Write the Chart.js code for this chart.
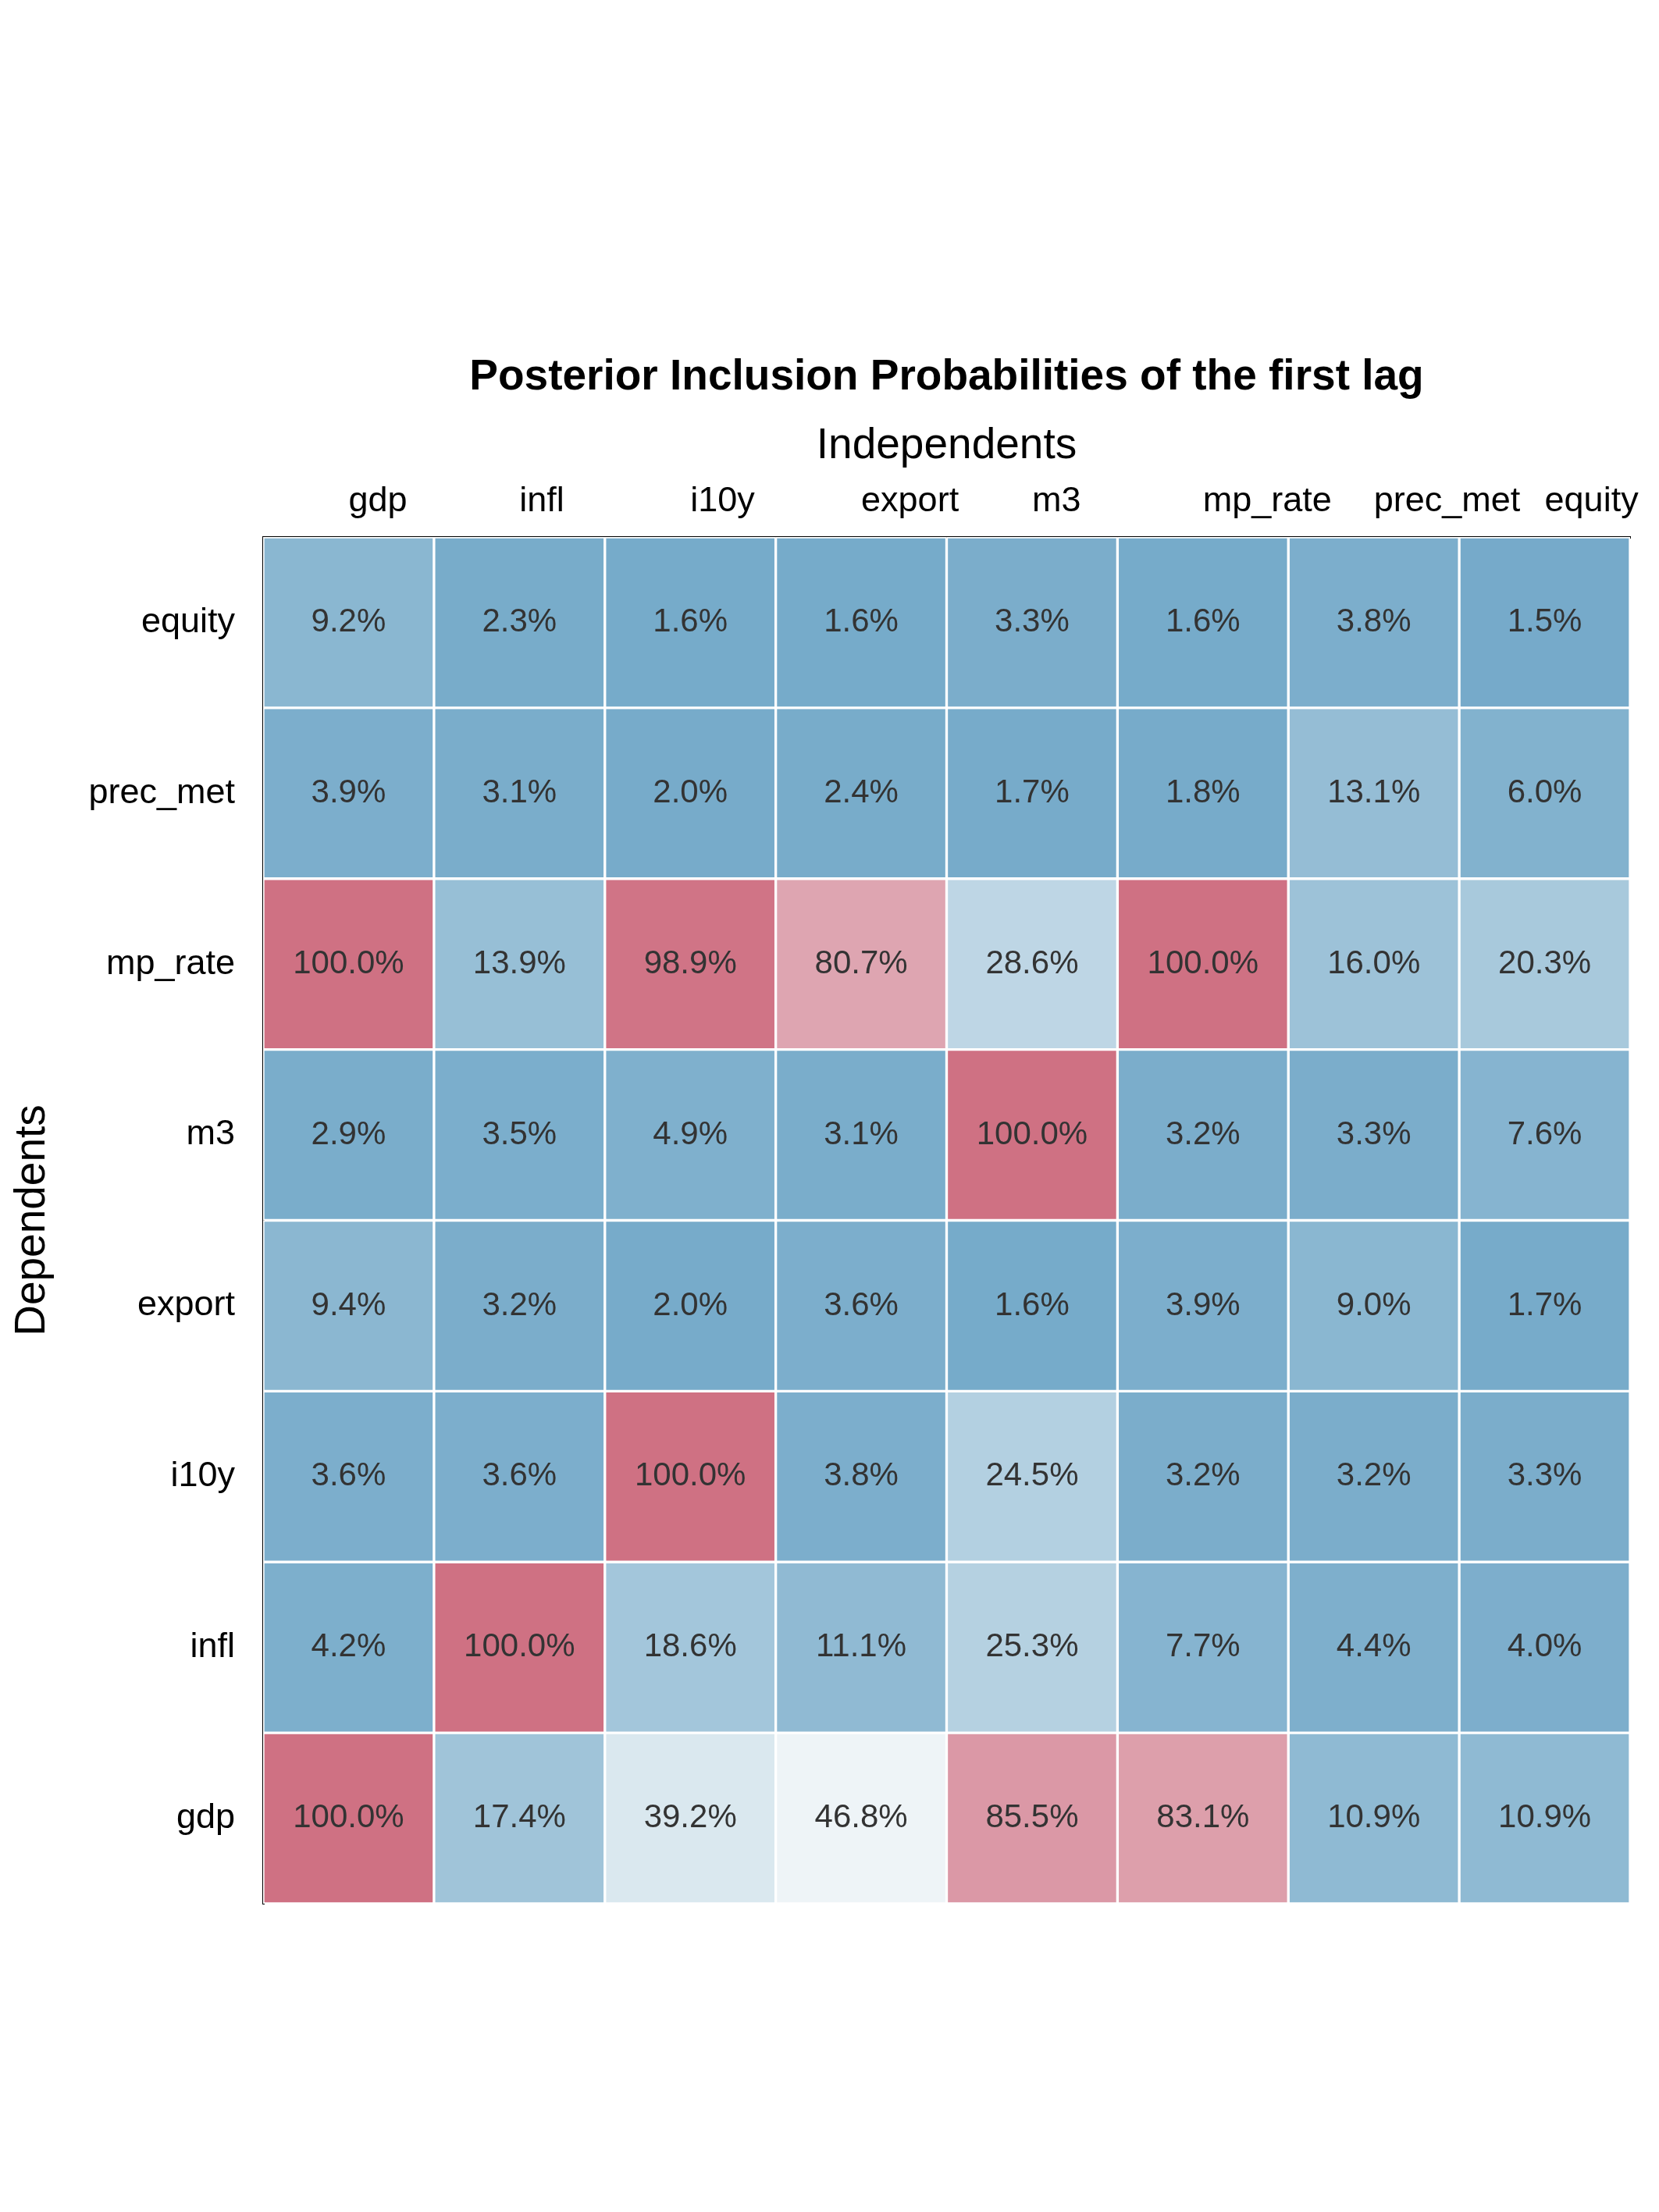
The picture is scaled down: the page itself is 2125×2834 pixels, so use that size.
<!DOCTYPE html>
<html>
<head>
<meta charset="utf-8">
<script src="https://cdn.jsdelivr.net/npm/chart.js@4.4.0/dist/chart.umd.min.js"></script>
<style>
  html, body { margin: 0; padding: 0; background: #fff; }
  #wrap { width: 2125px; height: 2834px; }
</style>
</head>
<body>
<div id="wrap"><canvas id="pipChart"></canvas></div>
<script>
const independents = ["gdp", "infl", "i10y", "export", "m3", "mp_rate", "prec_met", "equity"];
// dependents from bottom to top
const dependents = ["gdp", "infl", "i10y", "export", "m3", "mp_rate", "prec_met", "equity"];

const pipGdp = [100.0, 17.4, 39.2, 46.8, 85.5, 83.1, 10.9, 10.9];
const pipInfl = [4.2, 100.0, 18.6, 11.1, 25.3, 7.7, 4.4, 4.0];
const pipI10y = [3.6, 3.6, 100.0, 3.8, 24.5, 3.2, 3.2, 3.3];
const pipExport = [9.4, 3.2, 2.0, 3.6, 1.6, 3.9, 9.0, 1.7];
const pipM3 = [2.9, 3.5, 4.9, 3.1, 100.0, 3.2, 3.3, 7.6];
const pipMpRate = [100.0, 13.9, 98.9, 80.7, 28.6, 100.0, 16.0, 20.3];
const pipPrecMet = [3.9, 3.1, 2.0, 2.4, 1.7, 1.8, 13.1, 6.0];
const pipEquity = [9.2, 2.3, 1.6, 1.6, 3.3, 1.6, 3.8, 1.5];

const righe = [pipGdp, pipInfl, pipI10y, pipExport, pipM3, pipMpRate, pipPrecMet, pipEquity];

function coloreCella(v) {
  const p = v / 100;
  const blu = [114, 168, 200];
  const bianco = [247, 249, 250];
  const rosso = [207, 113, 131];
  let a, b, t;
  if (p <= 0.5) { a = blu; b = bianco; t = p / 0.5; }
  else { a = bianco; b = rosso; t = (p - 0.5) / 0.5; }
  const c = a.map((x, i) => Math.round(x + (b[i] - x) * t));
  return `rgb(${c[0]},${c[1]},${c[2]})`;
}

const datasets = righe.map((riga, i) => ({
  label: dependents[i],
  data: riga.map(() => 1),
  valori: riga,
  backgroundColor: riga.map(coloreCella),
  borderColor: "#ffffff",
  borderWidth: 2,
  borderSkipped: false,
  barPercentage: 1,
  categoryPercentage: 1
}));

const testiPlugin = {
  id: "testi",
  afterDatasetsDraw(chart) {
    const ctx = chart.ctx;
    const area = chart.chartArea;
    ctx.save();
    // valori nelle celle
    ctx.font = "42px 'Liberation Sans', Arial, sans-serif";
    ctx.fillStyle = "#333333";
    ctx.textAlign = "center";
    ctx.textBaseline = "middle";
    chart.data.datasets.forEach((ds, i) => {
      const meta = chart.getDatasetMeta(i);
      meta.data.forEach((bar, j) => {
        const yc = (bar.y + bar.base) / 2;
        ctx.fillText(ds.valori[j].toFixed(1) + "%", bar.x, yc);
      });
    });
    // etichette colonne (allineate a sinistra sul centro cella)
    ctx.fillStyle = "#000";
    ctx.font = "45px 'Liberation Sans', Arial, sans-serif";
    ctx.textAlign = "left";
    ctx.textBaseline = "alphabetic";
    const meta0 = chart.getDatasetMeta(0);
    independents.forEach((lab, j) => {
      ctx.fillText(lab, meta0.data[j].x, 655);
    });
    // etichette righe
    ctx.textAlign = "right";
    ctx.textBaseline = "middle";
    chart.data.datasets.forEach((ds, i) => {
      const bar = chart.getDatasetMeta(i).data[0];
      ctx.fillText(dependents[i], 301, (bar.y + bar.base) / 2);
    });
    // titoli
    const cx = (area.left + area.right) / 2;
    ctx.textAlign = "center";
    ctx.textBaseline = "middle";
    ctx.font = "bold 55px 'Liberation Sans', Arial, sans-serif";
    ctx.fillText("Posterior Inclusion Probabilities of the first lag", cx, 484);
    ctx.font = "55px 'Liberation Sans', Arial, sans-serif";
    ctx.fillText("Independents", cx, 572);
    ctx.translate(42, (area.top + area.bottom) / 2);
    ctx.rotate(-Math.PI / 2);
    ctx.fillText("Dependents", 0, 0);
    ctx.restore();
  }
};

new Chart(document.getElementById("pipChart"), {
  type: "bar",
  data: { labels: independents, datasets: datasets },
  options: {
    responsive: true,
    maintainAspectRatio: false,
    animation: false,
    layout: { padding: { left: 329, right: 37, top: 680, bottom: 395 } },
    plugins: { legend: { display: false }, tooltip: { enabled: false } },
    scales: {
      x: {
        position: "top",
        stacked: true,
        grid: { display: false },
        ticks: { display: false },
        border: { display: true, color: "#000", width: 3 }
      },
      y: {
        stacked: true,
        min: 0,
        max: 8,
        grid: { display: false },
        ticks: { display: false },
        border: { display: true, color: "#000", width: 3 }
      }
    }
  },
  plugins: [testiPlugin]
});
</script>
</body>
</html>
